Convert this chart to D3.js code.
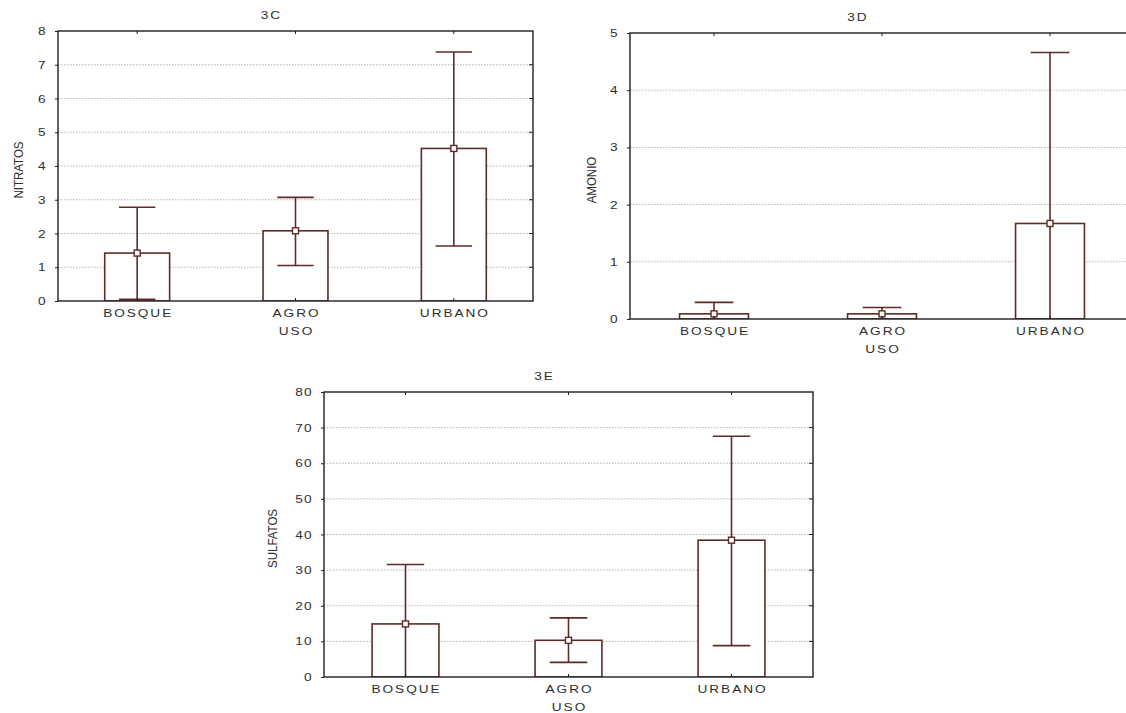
<!DOCTYPE html>
<html>
<head>
<meta charset="utf-8">
<script src="https://cdn.jsdelivr.net/npm/d3@7"></script>
<style>
  html, body { margin: 0; padding: 0; background: #fff; }
  svg { display: block; }
</style>
</head>
<body>
<svg id="chart" width="1126" height="713"></svg>
<script>
// data
const categories = ["BOSQUE", "AGRO", "URBANO"];

const nitratosMean = [1.42, 2.08, 4.52];
const nitratosLow  = [0.05, 1.05, 1.63];
const nitratosHigh = [2.78, 3.07, 7.38];
const nitratosTicks = [0, 1, 2, 3, 4, 5, 6, 7, 8];

const amonioMean = [0.09, 0.09, 1.67];
const amonioLow  = [-0.1, -0.02, -1.3];
const amonioHigh = [0.29, 0.20, 4.66];
const amonioTicks = [0, 1, 2, 3, 4, 5];

const sulfatosMean = [14.9, 10.3, 38.4];
const sulfatosLow  = [-1.8, 4.1, 8.8];
const sulfatosHigh = [31.6, 16.6, 67.6];
const sulfatosTicks = [0, 10, 20, 30, 40, 50, 60, 70, 80];

const panels = [
  { title: "3C", yTitle: "NITRATOS", mean: nitratosMean, low: nitratosLow, high: nitratosHigh, ticks: nitratosTicks,
    left: 58, top: 31, width: 475, height: 270, yTitleOff: 40 },
  { title: "3D", yTitle: "AMONIO", mean: amonioMean, low: amonioLow, high: amonioHigh, ticks: amonioTicks,
    left: 630, top: 33, width: 504, height: 286, yTitleOff: 39 },
  { title: "3E", yTitle: "SULFATOS", mean: sulfatosMean, low: sulfatosLow, high: sulfatosHigh, ticks: sulfatosTicks,
    left: 324, top: 392, width: 489, height: 285, yTitleOff: 52 }
];

const barColor = "#5e2b25";
const textColor = "#2e2e2e";
const svg = d3.select('#chart');

// wide-looking text like the scanned original
function wideText(g, x, y, str, anchor) {
  return g.append('text')
    .attr('transform', `translate(${x},${y}) scale(1.3,1)`)
    .attr('text-anchor', anchor || 'middle')
    .attr('font-family', 'Liberation Sans, Arial, sans-serif')
    .attr('font-size', '10.5px')
    .attr('letter-spacing', '1.5px')
    .attr('fill', textColor)
    .text(str);
}

panels.forEach((p, idx) => {
  const g = svg.append('g').attr('transform', `translate(${p.left},${p.top})`);

  const x = d3.scaleBand().domain(categories).range([0, p.width]).padding(0);
  const y = d3.scaleLinear().domain([p.ticks[0], p.ticks[p.ticks.length - 1]]).range([p.height, 0]);

  const clipId = 'clip' + idx;
  g.append('clipPath').attr('id', clipId)
    .append('rect').attr('width', p.width).attr('height', p.height);

  // dotted grid lines
  g.selectAll('line.grid')
    .data(p.ticks.slice(1, -1))
    .enter()
    .append('line')
    .attr('class', 'grid')
    .attr('x1', 0).attr('x2', p.width)
    .attr('y1', d => y(d)).attr('y2', d => y(d))
    .attr('stroke', '#b5b5b5')
    .attr('stroke-width', 1)
    .attr('stroke-dasharray', '1.5,1.5');

  const marks = g.append('g').attr('clip-path', `url(#${clipId})`);
  const bw = x.bandwidth() * 0.41;
  const cw = x.bandwidth() * 0.23;
  const cx = d => x(d) + x.bandwidth() / 2;

  // bars
  marks.selectAll('rect.bar')
    .data(categories)
    .enter()
    .append('rect')
    .attr('class', 'bar')
    .attr('x', d => cx(d) - bw / 2)
    .attr('y', (d, i) => y(p.mean[i]))
    .attr('width', bw)
    .attr('height', (d, i) => y(0) - y(p.mean[i]))
    .attr('fill', 'white')
    .attr('stroke', barColor)
    .attr('stroke-width', 1.6);

  // whiskers
  marks.selectAll('line.whisker')
    .data(categories)
    .enter()
    .append('line')
    .attr('class', 'whisker')
    .attr('x1', cx).attr('x2', cx)
    .attr('y1', (d, i) => y(p.low[i]))
    .attr('y2', (d, i) => y(p.high[i]))
    .attr('stroke', barColor)
    .attr('stroke-width', 1.6);

  ['high', 'low'].forEach(k => {
    marks.selectAll('line.cap-' + k)
      .data(categories)
      .enter()
      .append('line')
      .attr('class', 'cap-' + k)
      .attr('x1', d => cx(d) - cw / 2).attr('x2', d => cx(d) + cw / 2)
      .attr('y1', (d, i) => y(p[k][i]))
      .attr('y2', (d, i) => y(p[k][i]))
      .attr('stroke', barColor)
      .attr('stroke-width', 1.6);
  });

  // mean markers
  marks.selectAll('rect.mean')
    .data(categories)
    .enter()
    .append('rect')
    .attr('class', 'mean')
    .attr('x', d => cx(d) - 3)
    .attr('y', (d, i) => y(p.mean[i]) - 3)
    .attr('width', 6).attr('height', 6)
    .attr('fill', 'white')
    .attr('stroke', barColor)
    .attr('stroke-width', 1.4);

  // frame
  g.append('rect')
    .attr('width', p.width).attr('height', p.height)
    .attr('fill', 'none')
    .attr('stroke', '#1e1e1e')
    .attr('stroke-width', 1.4);

  // inner ticks: right side and top/bottom at category centres
  g.selectAll('line.rtick')
    .data(p.ticks.slice(1, -1))
    .enter()
    .append('line')
    .attr('x1', p.width - 4).attr('x2', p.width)
    .attr('y1', d => y(d)).attr('y2', d => y(d))
    .attr('stroke', '#1e1e1e');
  g.selectAll('line.ttick')
    .data(categories)
    .enter()
    .append('line')
    .attr('x1', cx).attr('x2', cx)
    .attr('y1', 0).attr('y2', 3)
    .attr('stroke', '#1e1e1e');
  g.selectAll('line.btick')
    .data(categories)
    .enter()
    .append('line')
    .attr('x1', cx).attr('x2', cx)
    .attr('y1', p.height - 3).attr('y2', p.height)
    .attr('stroke', '#1e1e1e');

  // left axis ticks
  const yAxis = d3.axisLeft(y).tickValues(p.ticks).tickSize(3).tickPadding(8).tickFormat(d3.format('d'));
  const ya = g.append('g').call(yAxis);
  ya.select('.domain').remove();
  ya.selectAll('line').attr('stroke', '#1e1e1e');
  ya.selectAll('text').remove();
  p.ticks.forEach(t => {
    wideText(g, -11, y(t) + 4, String(t), 'end').attr('letter-spacing', '1px');
  });

  // category labels
  categories.forEach(c => {
    wideText(g, cx(c) + 1, p.height + 16, c);
  });

  // axis titles
  wideText(g, x.bandwidth() * 1.5 + 1, p.height + 34, 'USO');
  wideText(g, p.width / 2 - 24, -12, p.title);

  g.append('text')
    .attr('transform', `translate(${-p.yTitleOff + 5},${p.height / 2 + 4}) rotate(-90) scale(1,1.05)`)
    .attr('text-anchor', 'middle')
    .attr('font-family', 'Liberation Sans Narrow, Arial Narrow, sans-serif')
    .attr('font-size', '11.5px')
    .attr('fill', textColor)
    .text(p.yTitle);
});
</script>
</body>
</html>
